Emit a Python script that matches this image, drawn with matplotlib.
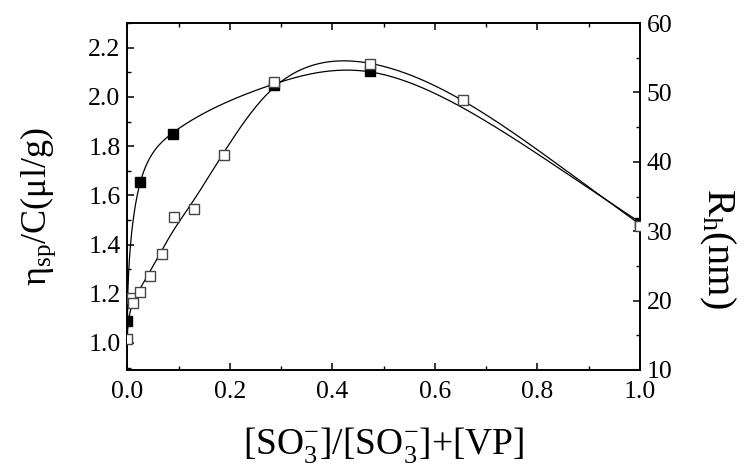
import numpy as np
import matplotlib
matplotlib.use("Agg")
import matplotlib.pyplot as plt
from matplotlib.ticker import MultipleLocator

plt.rcParams['font.family'] = ['Liberation Serif', 'DejaVu Serif']
plt.rcParams['mathtext.fontset'] = 'custom'
plt.rcParams['mathtext.rm'] = 'Liberation Serif'
plt.rcParams['mathtext.it'] = 'Liberation Serif:italic'

# filled squares: eta_sp/C (left axis)
x_eta = [0.0, 0.024, 0.089, 0.286, 0.474, 1.0]
y_eta = [1.09, 1.654, 1.851, 2.050, 2.105, 1.489]

# open squares: R_h (right axis)
x_rh = [0.0, 0.008, 0.011, 0.024, 0.043, 0.067, 0.090, 0.130, 0.188, 0.286, 0.474, 0.655, 1.0]
y_rh = [14.4, 20.4, 19.6, 21.2, 23.5, 26.7, 32.0, 33.2, 41.0, 51.5, 54.1, 48.9, 30.8]


def smooth_fit(u, y, lam, n=401):
    # penalised (2nd difference) least squares on a grid over [0, 1],
    # points weighted by the spacing around them
    u = np.asarray(u, dtype=float)
    grid = np.linspace(0, 1, n)
    B = np.zeros((len(u), n))
    for i, ui in enumerate(u):
        p = ui * (n - 1)
        i0 = min(int(np.floor(p)), n - 2)
        f = p - i0
        B[i, i0] = 1 - f
        B[i, i0 + 1] = f
    ext = np.concatenate([[u[0]], u, [u[-1]]])
    w = np.sqrt((ext[2:] - ext[:-2]) / 2 + 0.01)
    w = w / w.mean()
    W = np.diag(w)
    h = 1.0 / (n - 1)
    D = np.diff(np.eye(n), 2, axis=0) / h ** 2
    M = B.T @ W @ B + lam * h * D.T @ D
    z = np.linalg.solve(M, B.T @ W @ np.asarray(y))
    return grid, z


# both curves are smoothed in sqrt(x), which spreads out the crowded low-x points
u_grid, fit_eta = smooth_fit(np.sqrt(x_eta), y_eta, 3e-5)
_, fit_rh = smooth_fit(np.sqrt(x_rh), y_rh, 1e-4)
x_curve = u_grid ** 2

fig = plt.figure(figsize=(7.46, 4.70), dpi=100)
ax = fig.add_axes([0.1709, 0.2128, 0.687, 0.738])
ax2 = ax.twinx()

ax.plot(x_curve, fit_eta, color='black', lw=0.9, zorder=2)
ax.plot(x_eta, y_eta, 's', color='black', ms=6.5, zorder=3)
ax2.plot(x_curve, fit_rh, color='black', lw=0.9, zorder=2)
ax2.plot(x_rh, y_rh, 's', mfc='white', mec='#444444', mew=1.0, ms=6.5, zorder=3)

ax.set_xlim(0, 1.0)
ax.set_ylim(0.89, 2.30)
ax2.set_ylim(10, 60)

ax.xaxis.set_major_locator(MultipleLocator(0.2))
ax.xaxis.set_minor_locator(MultipleLocator(0.1))
ax.yaxis.set_major_locator(MultipleLocator(0.2))
ax.yaxis.set_minor_locator(MultipleLocator(0.1))
ax2.yaxis.set_major_locator(MultipleLocator(10))
ax2.yaxis.set_minor_locator(MultipleLocator(5))

ax.tick_params(axis='x', which='both', direction='in', top=True, labelsize=18.5, pad=8)
ax.tick_params(axis='y', which='both', direction='in', right=False, labelsize=18.5, pad=5)
ax2.tick_params(axis='y', which='both', direction='in', labelsize=18.5, pad=5)
for a in (ax, ax2):
    a.tick_params(which='major', length=5, width=1.1)
    a.tick_params(which='minor', length=3, width=1.0)
    for s in a.spines.values():
        s.set_linewidth(1.2)

ax.xaxis.set_major_formatter(plt.FuncFormatter(lambda v, p: f"{v:.1f}"))
ax.yaxis.set_major_formatter(plt.FuncFormatter(lambda v, p: f"{v:.1f}"))

ax.set_xlabel(r'[SO$_3^{-}$]/[SO$_3^{-}$]+[VP]', fontsize=27)
ax.xaxis.set_label_coords(0.5, -0.158)
ax.set_ylabel(r'η$_{\rm sp}$/C(μl/g)', fontsize=26)
ax.yaxis.set_label_coords(-0.136, 0.47)
ax2.set_ylabel(r'R$_{\rm h}$(nm)', fontsize=29, rotation=270)
ax2.yaxis.set_label_coords(1.189, 0.35)

fig.savefig('out.png', dpi=100)
